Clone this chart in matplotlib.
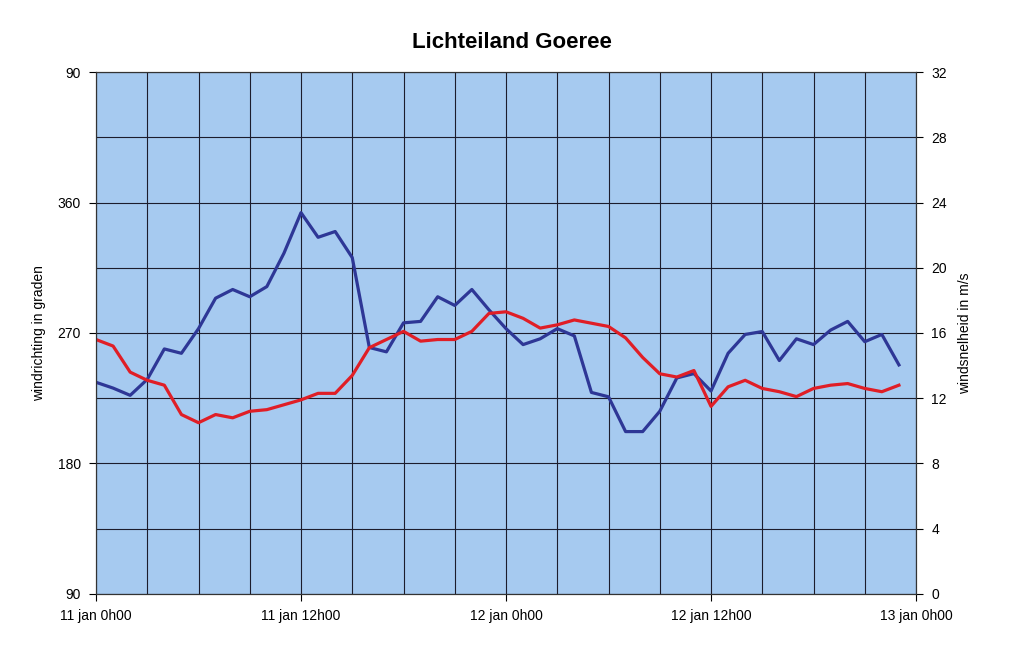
import numpy as np
import matplotlib.pyplot as plt

plt.rcParams['font.family'] = ['Liberation Sans', 'DejaVu Sans']

# uren vanaf 11 jan 0h00
uren = np.arange(48)

windrichting = [236, 232, 227, 238, 259, 256, 273, 294, 300, 295, 302, 325,
                353, 336, 340, 322, 260, 257, 277, 278, 295, 289, 300, 286,
                273, 262, 266, 273, 268, 229, 226, 202, 202, 216, 239, 242,
                230, 256, 269, 271, 251, 266, 262, 272, 278, 264, 269, 248]

windsnelheid = [15.6, 15.2, 13.6, 13.1, 12.8, 11.0, 10.5, 11.0, 10.8, 11.2, 11.3, 11.6,
                11.9, 12.3, 12.3, 13.4, 15.1, 15.6, 16.1, 15.5, 15.6, 15.6, 16.1, 17.2,
                17.3, 16.9, 16.3, 16.5, 16.8, 16.6, 16.4, 15.7, 14.5, 13.5, 13.3, 13.7,
                11.5, 12.7, 13.1, 12.6, 12.4, 12.1, 12.6, 12.8, 12.9, 12.6, 12.4, 12.8]

x_ticks = [0, 12, 24, 36, 48]
x_labels = ['11 jan 0h00', '11 jan 12h00', '12 jan 0h00', '12 jan 12h00', '13 jan 0h00']
graden_ticks = [90, 180, 270, 360, 450]
graden_labels = ['90', '180', '270', '360', '90']

fig = plt.figure(figsize=(10.24, 6.5), dpi=100)
ax = fig.add_axes([0.09375, 0.0862, 0.8008, 0.803])
ax.set_facecolor('#A6CAF0')

ax.plot(uren, windrichting, color='#2E3796', linewidth=2.3, zorder=3)
ax.set_xlim(0, 48)
ax.set_ylim(90, 450)
ax.set_xticks(x_ticks)
ax.set_xticklabels(x_labels, fontsize=10)
ax.set_xticks(np.arange(0, 49, 3), minor=True)
ax.set_yticks(graden_ticks)
ax.set_yticklabels(graden_labels, fontsize=10)
ax.set_yticks(np.arange(135, 450, 90), minor=True)
ax.tick_params(axis='y', which='minor', length=0)
ax.tick_params(axis='x', which='minor', length=0)
ax.tick_params(which='major', length=5, pad=6)
ax.grid(True, which='both', color='#1c1c2c', linewidth=0.8)
ax.set_axisbelow(True)
ax.set_ylabel('windrichting in graden', fontsize=10, labelpad=8)

ax2 = ax.twinx()
ax2.plot(uren, windsnelheid, color='#E01E26', linewidth=2.3)
ax2.set_ylim(0, 32)
ax2.set_yticks(np.arange(0, 33, 4))
ax2.tick_params(axis='y', labelsize=10, length=5, pad=6)
ax2.set_ylabel('windsnelheid in m/s', fontsize=10, labelpad=8)

for a in (ax, ax2):
    for s in a.spines.values():
        s.set_color('#333333')
        s.set_linewidth(0.8)

fig.suptitle('Lichteiland Goeree', x=0.5, y=0.935, va='center', fontsize=16, fontweight='bold')

fig.savefig('out.png', dpi=100)
